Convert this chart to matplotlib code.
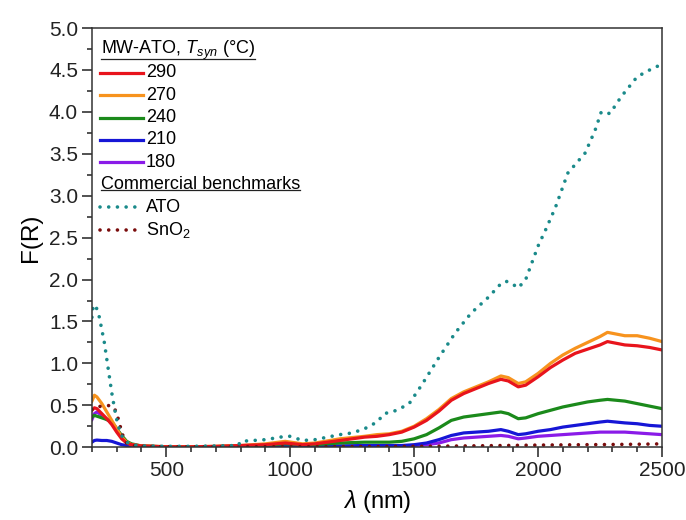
import numpy as np
import matplotlib
matplotlib.use("Agg")
import matplotlib.pyplot as plt
from matplotlib.lines import Line2D
from matplotlib.ticker import MultipleLocator, FormatStrFormatter

plt.rcParams['font.family'] = ['Liberation Sans', 'DejaVu Sans']
plt.rcParams['mathtext.fontset'] = 'custom'
plt.rcParams['mathtext.rm'] = 'Liberation Sans'
plt.rcParams['mathtext.it'] = 'Liberation Sans:italic'

# wavelength grid for MW-ATO samples (nm)
wl = [200, 210, 220, 240, 260, 280, 300, 320, 340, 360, 400, 500, 600, 700, 800, 900,
      980, 1050, 1100, 1200, 1300, 1350, 1400, 1450, 1500, 1550, 1600, 1650, 1700, 1750,
      1800, 1850, 1880, 1920, 1950, 2000, 2050, 2100, 2150, 2200, 2250, 2280, 2350, 2400,
      2450, 2500]

fr_290 = [0.44, 0.47, 0.46, 0.40, 0.34, 0.27, 0.18, 0.10, 0.05, 0.03, 0.015, 0.005, 0.005, 0.01,
          0.02, 0.03, 0.05, 0.03, 0.04, 0.08, 0.12, 0.13, 0.15, 0.18, 0.24, 0.32, 0.43, 0.56,
          0.64, 0.70, 0.76, 0.81, 0.79, 0.72, 0.74, 0.84, 0.95, 1.04, 1.12, 1.17, 1.22, 1.26,
          1.22, 1.21, 1.19, 1.16]
fr_270 = [0.55, 0.62, 0.60, 0.52, 0.42, 0.32, 0.22, 0.12, 0.06, 0.03, 0.015, 0.005, 0.005, 0.01,
          0.02, 0.04, 0.07, 0.04, 0.05, 0.10, 0.13, 0.15, 0.16, 0.19, 0.25, 0.34, 0.45, 0.58,
          0.66, 0.72, 0.78, 0.85, 0.83, 0.76, 0.78, 0.88, 1.00, 1.10, 1.18, 1.25, 1.32, 1.37,
          1.33, 1.33, 1.30, 1.26]
fr_240 = [0.36, 0.38, 0.37, 0.35, 0.33, 0.30, 0.22, 0.14, 0.07, 0.04, 0.015, 0.005, 0.005, 0.008,
          0.015, 0.025, 0.04, 0.03, 0.03, 0.05, 0.06, 0.06, 0.06, 0.07, 0.10, 0.15, 0.23, 0.32,
          0.36, 0.38, 0.40, 0.42, 0.40, 0.34, 0.35, 0.40, 0.44, 0.48, 0.51, 0.54, 0.56, 0.57,
          0.55, 0.52, 0.49, 0.46]
fr_210 = [0.06, 0.08, 0.085, 0.08, 0.08, 0.07, 0.05, 0.03, 0.02, 0.01, 0.005, 0.003, 0.003, 0.003,
          0.005, 0.01, 0.015, 0.01, 0.01, 0.015, 0.02, 0.02, 0.02, 0.02, 0.03, 0.05, 0.09, 0.14,
          0.17, 0.18, 0.19, 0.21, 0.19, 0.15, 0.16, 0.19, 0.21, 0.24, 0.26, 0.28, 0.30, 0.31,
          0.29, 0.28, 0.26, 0.25]
fr_180 = [0.33, 0.40, 0.42, 0.38, 0.33, 0.30, 0.22, 0.13, 0.06, 0.03, 0.01, 0.005, 0.005, 0.005,
          0.005, 0.01, 0.015, 0.01, 0.01, 0.01, 0.01, 0.01, 0.01, 0.015, 0.02, 0.03, 0.05, 0.09,
          0.11, 0.12, 0.13, 0.14, 0.13, 0.10, 0.11, 0.13, 0.14, 0.15, 0.16, 0.17, 0.18, 0.18,
          0.18, 0.17, 0.16, 0.15]

# commercial benchmarks
ato_wl = [200, 205, 210, 220, 230, 240, 250, 260, 270, 280, 290, 300, 310, 320, 330, 340, 360,
          400, 500, 600, 700, 790, 800, 900, 980, 1000, 1050, 1100, 1200, 1250, 1300, 1350, 1380,
          1430, 1480, 1530, 1600, 1665, 1730, 1800, 1850, 1870, 1890, 1920, 1950, 1975, 2000,
          2030, 2070, 2120, 2190, 2230, 2255, 2290, 2335, 2400, 2450, 2500]
ato = [1.55, 1.68, 1.70, 1.65, 1.55, 1.40, 1.25, 1.05, 0.85, 0.65, 0.48, 0.33, 0.22, 0.14, 0.09,
       0.06, 0.03, 0.015, 0.01, 0.01, 0.015, 0.02, 0.07, 0.09, 0.13, 0.13, 0.08, 0.09, 0.15, 0.17,
       0.22, 0.30, 0.40, 0.44, 0.52, 0.74, 1.07, 1.36, 1.60, 1.79, 1.95, 1.98, 1.96, 1.90, 2.00,
       2.20, 2.40, 2.59, 2.86, 3.27, 3.51, 3.78, 4.00, 3.98, 4.18, 4.42, 4.50, 4.57]
sn_wl = [200, 220, 240, 260, 280, 290, 300, 310, 320, 330, 340, 360, 400, 600, 1000, 1400, 1600,
         1800, 2000, 2200, 2400, 2500]
sno2 = [0.45, 0.48, 0.49, 0.50, 0.49, 0.47, 0.40, 0.30, 0.18, 0.10, 0.05, 0.02, 0.01, 0.005,
        0.005, 0.008, 0.012, 0.018, 0.025, 0.03, 0.035, 0.04]

mw_labels = ['290', '270', '240', '210', '180']
mw_colors = ['#e8141c', '#f7931e', '#1b8a1b', '#1616d6', '#8a1be8']
mw_data = [fr_290, fr_270, fr_240, fr_210, fr_180]

fig = plt.figure(figsize=(6.86, 5.2), dpi=100)
ax = fig.add_axes([0.134, 0.140, 0.831, 0.806])

dot = dict(linestyle=(0, (0.01, 2.4)), lw=2.6, dash_capstyle='round')
for y, c in zip(mw_data[::-1], mw_colors[::-1]):
    ax.plot(wl, y, color=c, lw=2.3)
ax.plot(sn_wl, sno2, color='#7a0c0c', **dot)
ax.plot(ato_wl, ato, color='#1a8a8a', **dot)

ax.set_xlim(200, 2500)
ax.set_ylim(0, 5)
ax.xaxis.set_major_locator(MultipleLocator(500))
ax.xaxis.set_minor_locator(MultipleLocator(100))
ax.yaxis.set_major_locator(MultipleLocator(0.5))
ax.yaxis.set_minor_locator(MultipleLocator(0.25))
ax.yaxis.set_major_formatter(FormatStrFormatter('%.1f'))
ax.tick_params(which='major', direction='out', length=7, width=1.1, labelsize=15,
               colors='#222222', pad=3)
ax.tick_params(which='minor', direction='out', length=3.5, width=1.1, colors='#222222')
for s in ax.spines.values():
    s.set_color('#333333')
    s.set_linewidth(1.1)

ax.set_xlabel(r'$\lambda$ (nm)', fontsize=17, labelpad=6)
ax.set_ylabel('F(R)', fontsize=17.5, labelpad=5)

# legend drawn by hand (underlined section headers)
x_line0, x_line1, x_text, x_head = 0.014, 0.089, 0.095, 0.016
row0, step = 0.947, 0.0535
fs = 13
headers = []
headers.append(ax.text(x_head, row0, r'MW-ATO, $T_{syn}$ (°C)', transform=ax.transAxes,
                       fontsize=fs, va='center'))
for i, (lab, c) in enumerate(zip(mw_labels, mw_colors)):
    yy = row0 - (i + 1) * step
    ax.add_line(Line2D([x_line0, x_line1], [yy, yy], transform=ax.transAxes, color=c, lw=2.3))
    ax.text(x_text, yy, lab, transform=ax.transAxes, fontsize=fs, va='center')
yy = row0 - 6 * step
headers.append(ax.text(x_head, yy, 'Commercial benchmarks', transform=ax.transAxes,
                       fontsize=fs, va='center'))
for j, (lab, c) in enumerate(zip(['ATO', 'SnO$_2$'], ['#1a8a8a', '#7a0c0c'])):
    yy = row0 - (7 + j) * step
    ax.add_line(Line2D([x_line0, x_line1], [yy, yy], transform=ax.transAxes, color=c, **dot))
    ax.text(x_text, yy, lab, transform=ax.transAxes, fontsize=fs, va='center')

fig.canvas.draw()
r = fig.canvas.get_renderer()
for t in headers:
    bb = t.get_window_extent(r)
    yline = bb.y0 + 3
    p0 = fig.transFigure.inverted().transform((bb.x0, yline))
    p1 = fig.transFigure.inverted().transform((bb.x1, yline))
    fig.add_artist(Line2D([p0[0], p1[0]], [p0[1], p1[1]], transform=fig.transFigure,
                          color='#222222', lw=0.9))

fig.savefig('out.png', dpi=100)
